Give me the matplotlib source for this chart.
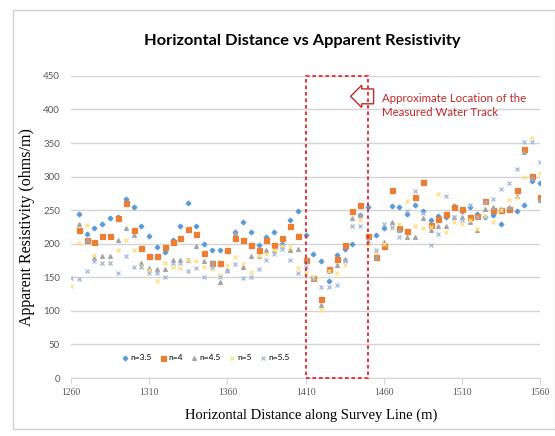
import matplotlib
matplotlib.use('Agg')
import matplotlib.pyplot as plt
from matplotlib.patches import Rectangle
import numpy as np

nan = np.nan

# survey positions (m), 5 m spacing
distance = list(range(1260, 1561, 5))

# apparent resistivity (ohms/m)
n35 = [nan, 245, 215, 223, 229, 239, 240, 266, 254, 227, 212, 195, 188, 206, 226, 261,
       227, 200, 191, 191, 189, 217, 232, 218, 198, 210, 217, 199, 236, 248, 213,
       184, 175, 145, 183, 192, 199, 243, 255, 213, 223, 256, 254, 245, 258, 248,
       236, 241, 240, 256, 248, 254, 245, 240, 243, 230, 251, 249, 258, 294, 290]
n4 = [nan, 221, 205, 202, 212, 212, 238, 260, 221, 194, 181, 181, 195, 202, 209, 222,
      215, 186, 171, 171, 190, 209, 205, 198, 190, 206, 198, 208, 227, 212, 176,
      149, 118, 162, 177, 198, 249, 257, 212, 180, 197, 280, 224, 219, 269, 292,
      228, 237, 245, 254, 251, 240, 241, 264, 250, 250, 252, 280, 341, 301, 269]
n45 = [nan, 230, 205, 178, 182, 182, 206, 223, 213, 172, 164, 163, 163, 176, 176, 176,
       197, 175, 173, 143, 161, 216, 166, 182, 181, 190, 190, 197, 191, 192, 175,
       149, 109, 160, 168, 177, 238, 243, 203, 180, 202, 233, 220, 210, 210, 238,
       221, 227, 227, 240, 240, 232, 221, 251, 254, 251, 255, 271, 337, 298, 265]
n5 = [137, 201, 228, 183, 171, 171, 191, 206, 191, 167, 161, 144, 171, 166, 164, 176,
      174, 165, 162, 153, 168, 180, 170, 158, 182, 185, 190, 197, 195, 164, 157,
      150, 102, 160, 157, 168, 226, 236, 200, 188, 200, 224, 230, 264, 226, 224,
      225, 274, 218, 233, 230, 236, 222, 242, 232, 250, 265, 270, 300, 357, 305]
n55 = [149, 147, 160, 175, 172, 172, 156, 182, 166, 166, 156, 156, 150, 171, 171, 160,
       164, 150, 165, 150, 160, 170, 149, 151, 162, 176, 185, 192, 176, 157, 165,
       148, 135, 136, 139, 175, 226, 227, 205, 191, 230, 225, 210, 248, 279, 246,
       198, 215, 271, 240, 235, 258, 240, 262, 266, 281, 291, 311, 351, 351, 321]

labels = ['n=3.5', 'n=4', 'n=4.5', 'n=5', 'n=5.5']
colors = ['#5B9BD5', '#ED7D31', '#A5A5A5', '#FFDF80', '#A3B8E0']
markers = ['D', 's', '^', 'x', 'x']
sizes = [2.4, 3.6, 2.8, 3.0, 3.0]

fig = plt.figure(figsize=(5.55, 4.36), dpi=100)
ax = fig.add_axes([0.128, 0.133, 0.845, 0.693])

# outer chart border
fig.patches.append(Rectangle((0.024, 0.015), 0.976, 0.962, transform=fig.transFigure,
                             fill=False, ec='#d0d0d0', lw=1))

for ys, lab, c, m, s in zip([n35, n4, n45, n5, n55], labels, colors, markers, sizes):
    ax.plot(distance, ys, ls='none', marker=m, ms=s, color=c, mec=c, mew=0.9, label=lab)

# water track box
ax.add_patch(Rectangle((1410, 0), 40, 450, fill=False, ec='#E8272A', lw=1.3,
                       ls=(0, (2, 1.6)), clip_on=False, zorder=5))
ax.text(1444, 415, '    ', fontsize=7,
        bbox=dict(boxstyle='larrow,pad=0.25', fc='white', ec='#C0282B', lw=1.0))
ax.text(1459, 406, 'Approximate Location of the\nMeasured Water Track',
        color='#C0282B', fontsize=8.3, family='Lato', va='center', linespacing=1.25)

ax.set_xlim(1260, 1560)
ax.set_ylim(0, 450)
ax.set_xticks(range(1260, 1561, 50))
ax.set_yticks(range(0, 451, 50))
ax.grid(axis='y', color='#d4d4d4', lw=1)
ax.set_axisbelow(True)
for sp in ['top', 'right', 'left']:
    ax.spines[sp].set_visible(False)
ax.spines['bottom'].set_color('#d4d4d4')
ax.tick_params(axis='y', length=0, labelsize=7, labelcolor='#595959', pad=8)
ax.tick_params(axis='x', length=4, color='#d4d4d4', labelsize=7, labelcolor='#595959')
for t in ax.get_xticklabels():
    t.set_family('Liberation Serif')
for t in ax.get_yticklabels():
    t.set_family('Lato')

ax.set_xlabel('Horizontal Distance along Survey Line (m)', family='Liberation Serif',
              fontsize=10.5, labelpad=7)
ax.xaxis.set_label_coords(0.512, -0.1)
ax.set_ylabel('Apparent Resistivity (ohms/m)', family='Liberation Serif', fontsize=11.5)
ax.yaxis.set_label_coords(-0.077, 0.5)
fig.text(0.545, 0.905, 'Horizontal Distance vs Apparent Resistivity', ha='center',
         va='center', fontsize=11.8, fontweight='bold', family='Lato')

ax.legend(loc='lower left', bbox_to_anchor=(0.09, 0.03), ncol=5, frameon=False,
          handletextpad=0.1, columnspacing=0.9, handlelength=1.0,
          prop={'family': 'Lato', 'size': 6})

fig.savefig('out.png', dpi=100)
